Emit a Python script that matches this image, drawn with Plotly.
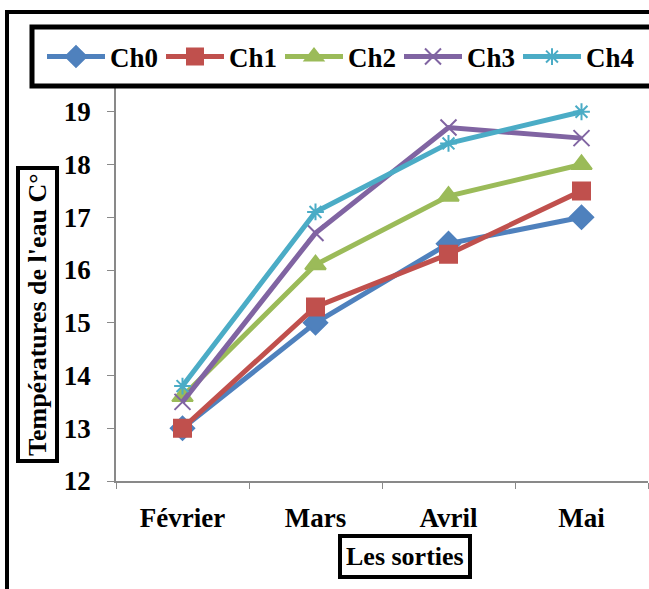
import plotly.graph_objects as go

months = ["Février", "Mars", "Avril", "Mai"]
ch0 = [13.0, 15.0, 16.5, 17.0]
ch1 = [13.0, 15.3, 16.3, 17.5]
ch2 = [13.6, 16.1, 17.4, 18.0]
ch3 = [13.5, 16.7, 18.7, 18.5]
ch4 = [13.8, 17.1, 18.4, 19.0]
y_ticks = [12, 13, 14, 15, 16, 17, 18, 19]

series = [
    ("Ch0", ch0, "#4F81BD", "diamond", 18),
    ("Ch1", ch1, "#C0504D", "square", 17),
    ("Ch2", ch2, "#9BBB59", "triangle-up", 18),
    ("Ch3", ch3, "#8064A2", "x-thin-open", 16),
    ("Ch4", ch4, "#4BACC6", "asterisk-open", 14),
]

FONT = "Liberation Serif"
FS = 27
W, H = 649, 589
L, R, T, B = 116, 1, 59, 108
pw, ph = W - L - R, H - T - B


def px(x):
    return (x - L) / pw


def py(y):
    return (H - B - y) / ph


fig = go.Figure()
for name, vals, col, sym, sz in series:
    fig.add_trace(go.Scatter(
        x=months, y=vals, name=name, mode="lines+markers",
        line=dict(color=col, width=5),
        marker=dict(symbol=sym, size=sz, color=col, line=dict(color=col, width=2)),
    ))

fig.update_layout(
    width=W, height=H,
    margin=dict(l=L, r=R, t=T, b=B),
    paper_bgcolor="white", plot_bgcolor="white",
    font=dict(family=FONT, size=FS, color="black"),
    showlegend=True,
    legend=dict(
        orientation="h", x=px(42), xanchor="left", y=py(57), yanchor="middle",
        bgcolor="rgba(0,0,0,0)", borderwidth=0,
        font=dict(family=FONT, size=FS, color="black", weight="bold"),
        entrywidth=46, entrywidthmode="pixels", itemwidth=58,
        tracegroupgap=0,
    ),
    xaxis=dict(
        type="category", range=[-0.5, 3.5], showgrid=False, showline=True,
        linecolor="#898989", linewidth=1.5,
        ticks="outside", tickson="boundaries", ticklen=6, tickcolor="#898989",
        tickfont=dict(family=FONT, size=FS, color="black", weight="bold"),
        ticklabelstandoff=12, zeroline=False,
    ),
    yaxis=dict(
        range=[12, 20], tickvals=y_ticks, showgrid=False, showline=True,
        linecolor="#898989", linewidth=1.5, ticks="outside", ticklen=7, tickcolor="#898989",
        tickfont=dict(family=FONT, size=FS, color="black", weight="bold"),
        ticklabelstandoff=11, zeroline=False,
    ),
    shapes=[
        dict(type="line", xref="paper", yref="paper", x0=px(7), x1=px(7), y0=py(11), y1=py(600),
             line=dict(color="black", width=4)),
        dict(type="line", xref="paper", yref="paper", x0=px(5), x1=px(660), y0=py(12), y1=py(12),
             line=dict(color="black", width=4)),
        dict(type="rect", xref="paper", yref="paper", x0=px(32), x1=px(680), y0=py(27), y1=py(86),
             line=dict(color="black", width=5), fillcolor="white", layer="above"),
    ],
    annotations=[
        dict(text="<b>Températures de l'eau C°</b>", xref="paper", yref="paper",
             x=px(37), y=py(315), xanchor="center", yanchor="middle", textangle=-90,
             showarrow=False, font=dict(family=FONT, size=FS - 1, color="black"),
             bordercolor="black", borderwidth=4, borderpad=3, bgcolor="white"),
        dict(text="<b>Les sorties</b>", xref="paper", yref="paper",
             x=px(405), y=py(556), xanchor="center", yanchor="middle",
             showarrow=False, font=dict(family=FONT, size=FS - 1, color="black"),
             bordercolor="black", borderwidth=4, borderpad=4, bgcolor="white"),
    ],
)

fig.write_html("out.html")
